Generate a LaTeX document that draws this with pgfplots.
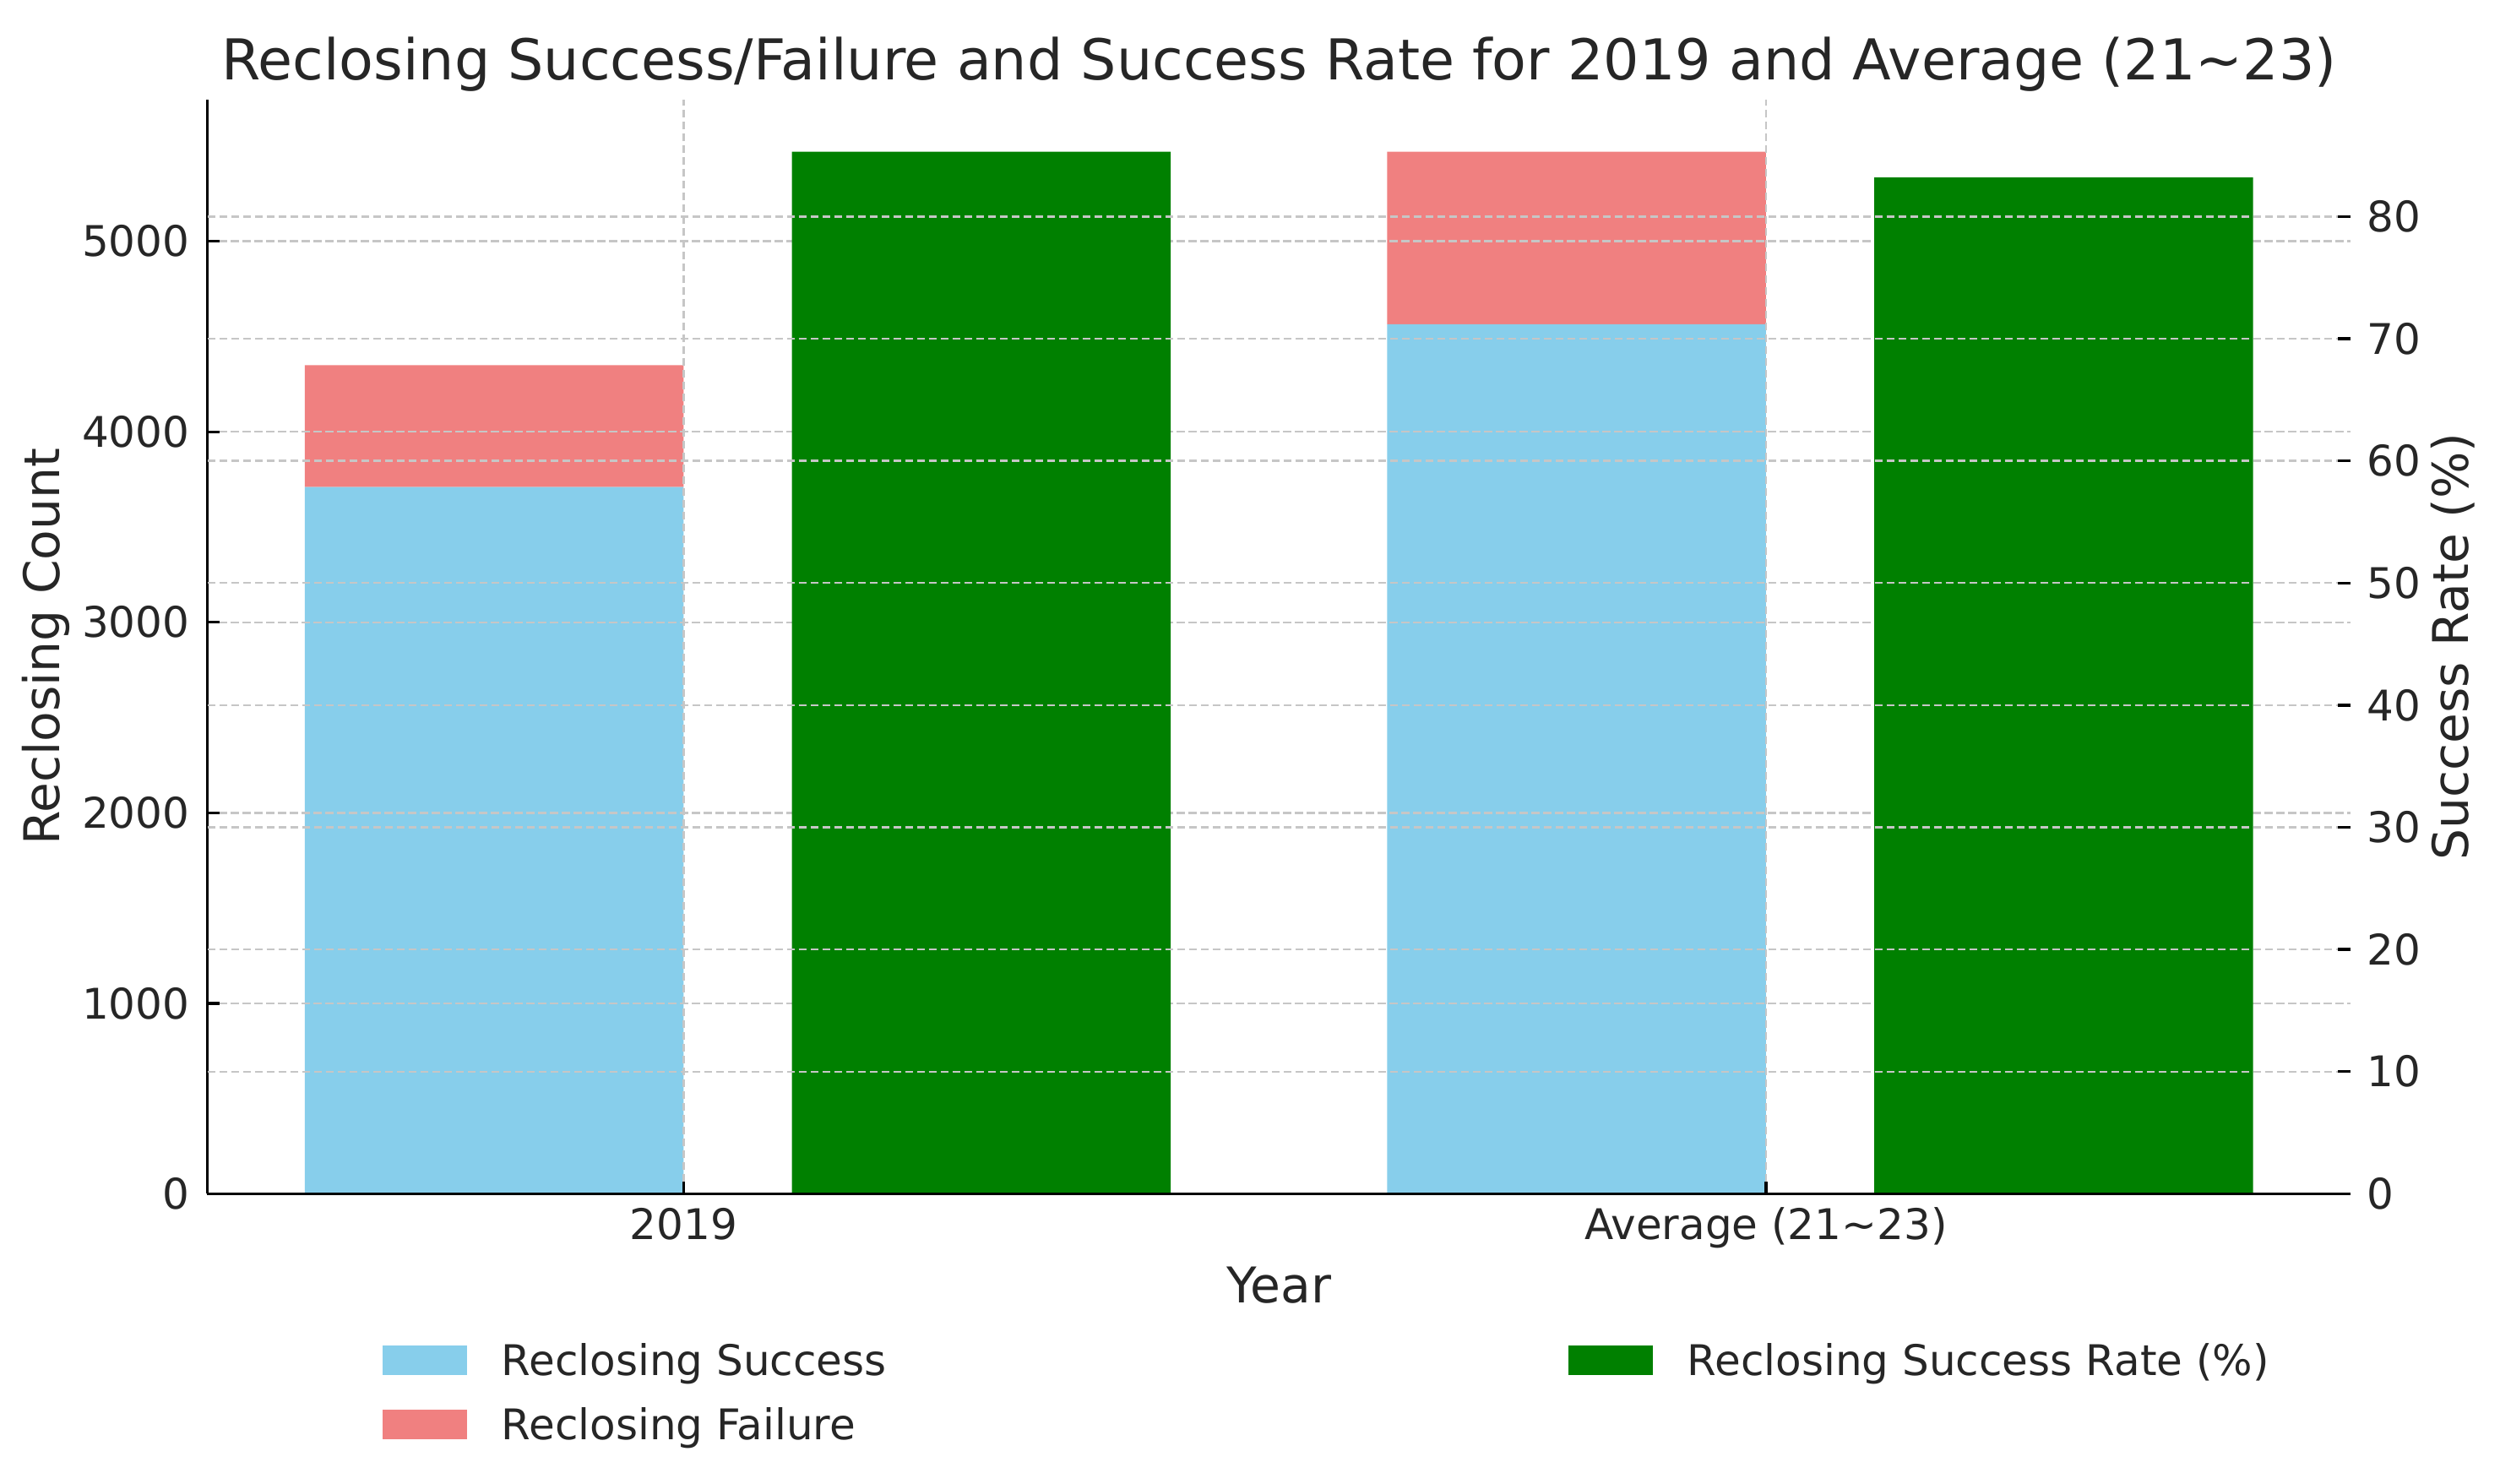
\documentclass[border=0pt]{standalone}
\usepackage{pgfplots}
\pgfplotsset{compat=1.18}
\usepackage{fontspec}
\setmainfont{DejaVu Sans}
\definecolor{skyblue}{HTML}{87CEEB}
\definecolor{lightcoral}{HTML}{F08080}
\definecolor{mplgreen}{HTML}{008000}
\definecolor{txt}{HTML}{262626}

\pgfplotsset{
  common/.style={
    at={(61.375pt,85.9pt)}, anchor=south west,
    scale only axis, width=634.375pt, height=323.85pt,
    xmin=-0.44, xmax=1.54, ymin=0,
    axis on top,
    axis line style={black, line width=0.833pt, -},
    tick align=inside, major tick length=3.65pt,
    tick style={black, line width=0.833pt},
    major grid style={gray!45, line width=0.6pt, dash pattern=on 2.4pt off 1.1pt},
    /pgf/number format/assume math mode=true,
    /pgf/number format/1000 sep={},
    tick label style={font=\fontsize{12.5}{15}\selectfont, text=txt},
    label style={font=\fontsize{14.58}{17.5}\selectfont, text=txt},
    legend style={draw=none, fill=none, inner sep=0pt, outer sep=0pt,
      row sep=6pt, anchor=north west,
      font=\fontsize{12.5}{15}\selectfont, text=txt,
      nodes={inner sep=0pt, text height=9.5pt, text depth=3.5pt},
      /tikz/every odd column/.style={column sep=10.25pt}},
    legend cell align=left,
  },
  patch/.style={legend image code/.code={\fill[##1] (0pt,-3pt) rectangle (25pt,5.75pt);}},
}

\begin{document}
\begin{tikzpicture}
\useasboundingbox (0,0) rectangle (740pt,439.25pt);

% left axis: counts, stacked
\begin{axis}[
  common,
  ybar stacked, bar width=0.35,
  patch,
  ymax=5743.5,
  axis x line*=bottom, axis y line*=left,
  xtick={0,1},
  xticklabels={2019, Average (21\textasciitilde23)},
  xticklabel style={anchor=base, yshift=-13.65pt, inner sep=0pt},
  ytick={0,1000,...,5000},
  yticklabel style={anchor=east, inner sep=0pt, xshift=-5.1pt},
  xmajorgrids, ymajorgrids,
  xlabel={Year},
  xlabel style={at={(axis description cs:0.5,-0.10005)}, anchor=base},
  ylabel={Reclosing Count},
  ylabel style={at={(axis description cs:-0.06916,0.5)}, anchor=base, rotate=0},
  legend style={at={(axis description cs:0.08177,-0.13633)}},
]
\addplot[fill=skyblue, draw=none] coordinates {(-0.175,3710) (0.825,4565)};
\addlegendentry{Reclosing Success}
\addplot[fill=lightcoral, draw=none] coordinates {(-0.175,640) (0.825,905)};
\addlegendentry{Reclosing Failure}
\end{axis}

% right axis: success rate
\begin{axis}[
  common,
  ybar, bar width=0.35, bar shift=0pt,
  patch,
  ymax=89.565,
  axis x line*=bottom, axis y line*=right,
  y axis line style={draw=none},
  xtick=\empty,
  ytick={0,10,...,80},
  yticklabel style={anchor=west, inner sep=0pt, xshift=4.75pt},
  ymajorgrids,
  ylabel={Success Rate (\%)},
  ylabel style={at={(axis description cs:1.05478,0.5)}, anchor=base, rotate=0},
  legend style={at={(axis description cs:0.63507,-0.13633)}},
]
\addplot[fill=mplgreen, draw=none] coordinates {(0.275,85.3) (1.275,83.2)};
\addlegendentry{Reclosing Success Rate (\%)}
\end{axis}

\node[anchor=base, text=txt, font=\fontsize{16.67}{20}\selectfont, inner sep=0pt]
  at (378.56pt,415.5pt) {Reclosing Success/Failure and Success Rate for 2019 and Average (21\textasciitilde23)};
\end{tikzpicture}
\end{document}
